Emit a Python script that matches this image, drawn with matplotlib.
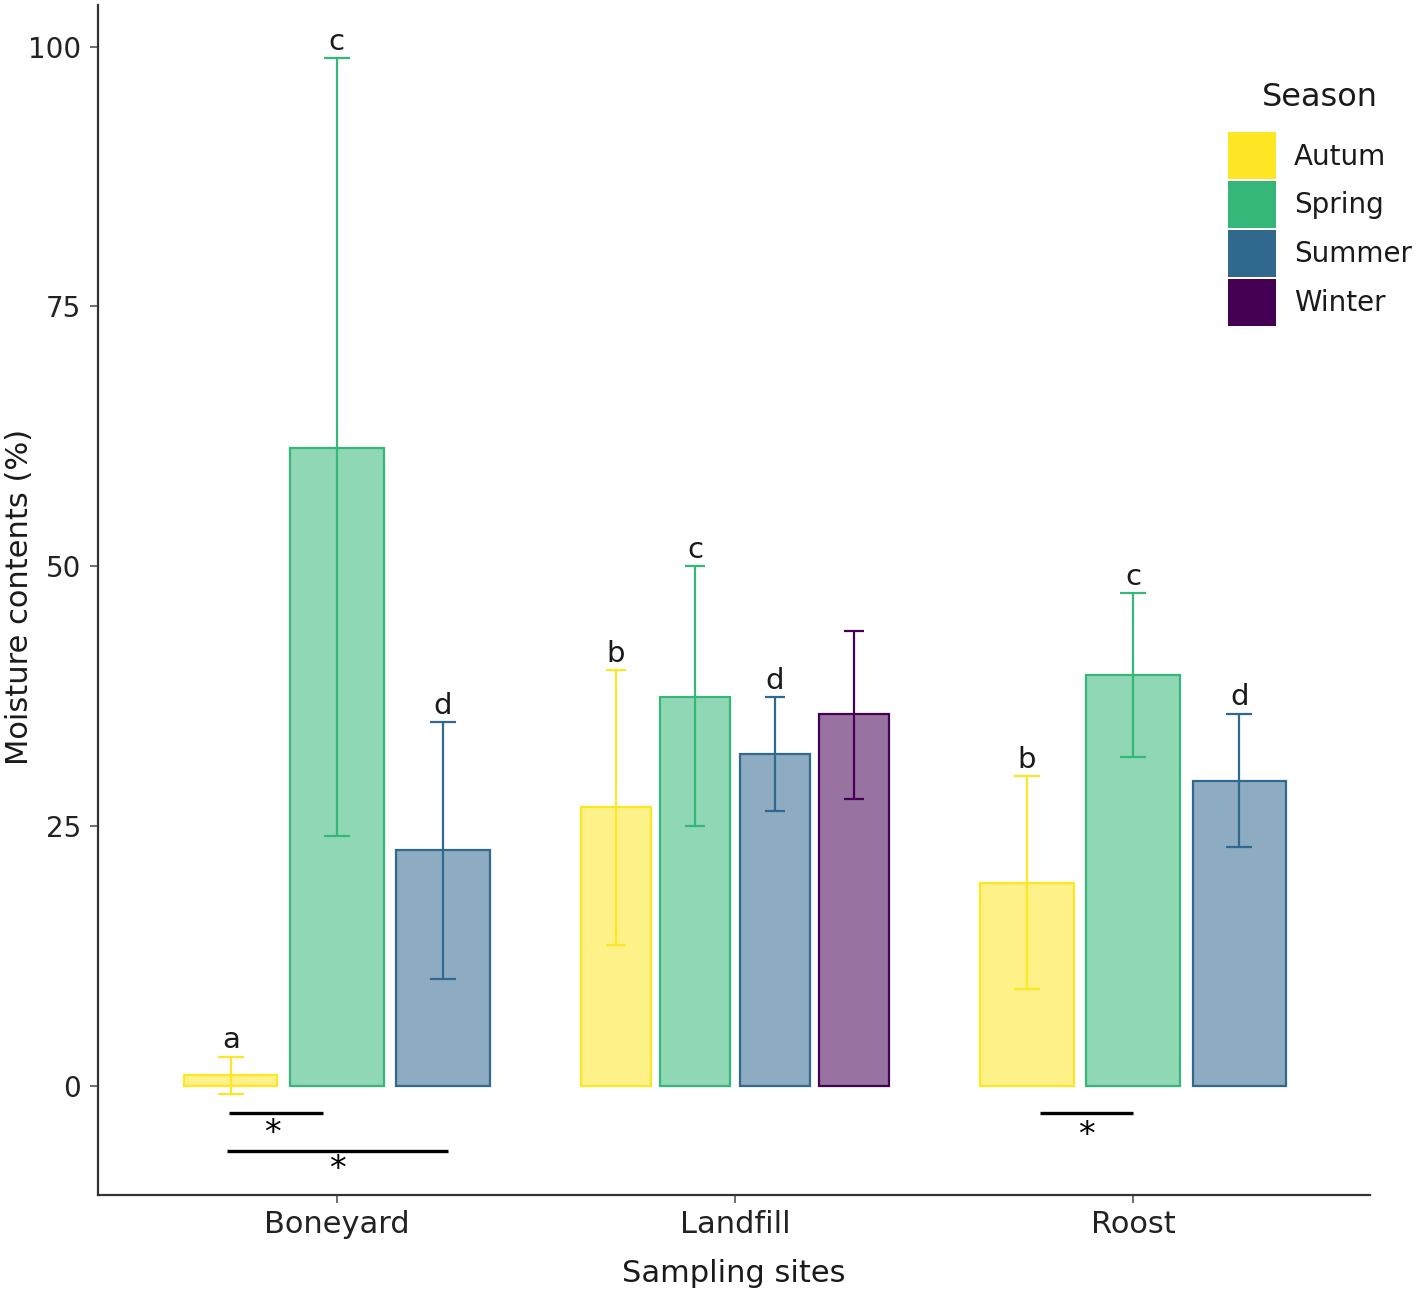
import matplotlib
matplotlib.use("Agg")
import matplotlib.pyplot as plt
from matplotlib.patches import Patch
import numpy as np

# ---- data ----
sites = ["Boneyard", "Landfill", "Roost"]
seasons = ["Autum", "Spring", "Summer", "Winter"]
season_colors = {"Autum": "#FDE725", "Spring": "#35B779", "Summer": "#31688E", "Winter": "#440154"}

# per-site seasons present
site_seasons = {
    "Boneyard": ["Autum", "Spring", "Summer"],
    "Landfill": ["Autum", "Spring", "Summer", "Winter"],
    "Roost": ["Autum", "Spring", "Summer"],
}
means = {
    "Boneyard": [1.0, 61.4, 22.7],
    "Landfill": [26.8, 37.4, 31.9, 35.8],
    "Roost": [19.5, 39.5, 29.3],
}
err_low = {
    "Boneyard": [-0.8, 24.0, 10.3],
    "Landfill": [13.6, 25.0, 26.4, 27.6],
    "Roost": [9.3, 31.6, 23.0],
}
err_high = {
    "Boneyard": [2.8, 98.9, 35.0],
    "Landfill": [40.0, 50.0, 37.4, 43.8],
    "Roost": [29.8, 47.4, 35.8],
}
letters = {
    "Boneyard": ["a", "c", "d"],
    "Landfill": ["b", "c", "d", ""],
    "Roost": ["b", "c", "d"],
}
# significance brackets: (x_start, x_end, y, star_x, star_y)
sig_brackets = [
    (-0.27, -0.035, -2.6, -0.163, -4.6),
    (-0.275, 0.28, -6.25, 0.0, -8.0),
    (1.765, 2.0, -2.6, 1.882, -4.8),
]

# ---- plot ----
plt.rcParams["font.family"] = ["DejaVu Sans"]
fig = plt.figure(figsize=(14.16, 12.94), dpi=100)
ax = fig.add_axes([98 / 1416, 1 - 1195 / 1294, (1370 - 98) / 1416, (1195 - 5) / 1294])

dodge = 0.8
for i, site in enumerate(sites):
    ss = site_seasons[site]
    n = len(ss)
    slot = dodge / n
    bw = slot * 0.88
    capsize = bw * 398 * 0.14 * 0.72
    for j, s in enumerate(ss):
        x = i - dodge / 2 + slot * (j + 0.5)
        col = season_colors[s]
        m = means[site][j]
        ax.bar(x, m, width=bw, color=col, alpha=0.55, edgecolor="none", zorder=2)
        ax.bar(x, m, width=bw, facecolor="none", edgecolor=col, linewidth=1.6, zorder=3)
        lo, hi = err_low[site][j], err_high[site][j]
        ax.errorbar([x], [m], yerr=[[m - lo], [hi - m]], fmt="none", ecolor=col,
                    elinewidth=1.6, capsize=capsize, capthick=1.6, zorder=4)
        if letters[site][j]:
            ax.text(x, hi + 0.8, letters[site][j], ha="center", va="baseline",
                    fontsize=21, color="#1a1a1a")

for x0, x1, y, sx, sy in sig_brackets:
    ax.plot([x0, x1], [y, y], color="black", linewidth=2.4, solid_capstyle="butt", zorder=5)
    ax.text(sx, sy, "*", ha="center", va="center", fontsize=24, color="black")

ax.set_xlim(-0.6, 2.595)
ax.set_ylim(-10.5, 104)
ax.set_xticks(range(len(sites)))
ax.set_xticklabels(sites)
ax.set_yticks([0, 25, 50, 75, 100])
ax.tick_params(axis="both", colors="#555555", length=6, width=1.2, labelcolor="#222222")
ax.tick_params(axis="x", labelsize=22, pad=5)
ax.tick_params(axis="y", labelsize=20, pad=6)
for side in ["top", "right"]:
    ax.spines[side].set_visible(False)
for side in ["left", "bottom"]:
    ax.spines[side].set_color("#333333")
    ax.spines[side].set_linewidth(1.6)

ax.set_xlabel("Sampling sites", fontsize=22, color="#1a1a1a")
ax.xaxis.set_label_coords(0.5, -(1273 - 1195) / 1190)
ax.xaxis.label.set_va("center")
ax.set_ylabel("Moisture contents (%)", fontsize=22, color="#1a1a1a")
ax.yaxis.set_label_coords(-(98 - 34) / 1272, (1195 - 597) / 1190)

handles = [Patch(facecolor=season_colors[s], edgecolor="none", label=s) for s in seasons]
leg = fig.legend(handles=handles, title="Season", loc="upper left",
                 bbox_to_anchor=(1228 / 1416, 1 - 82 / 1294), frameon=False,
                 fontsize=20, title_fontsize=23, handlelength=1.73, handleheight=2.22,
                 labelspacing=0.07, handletextpad=0.65, borderaxespad=0, borderpad=0)
leg._legend_box.sep = 14
for t in leg.get_texts():
    t.set_color("#1a1a1a")
leg.get_title().set_color("#1a1a1a")

fig.savefig("out.png", dpi=100, facecolor="white")
